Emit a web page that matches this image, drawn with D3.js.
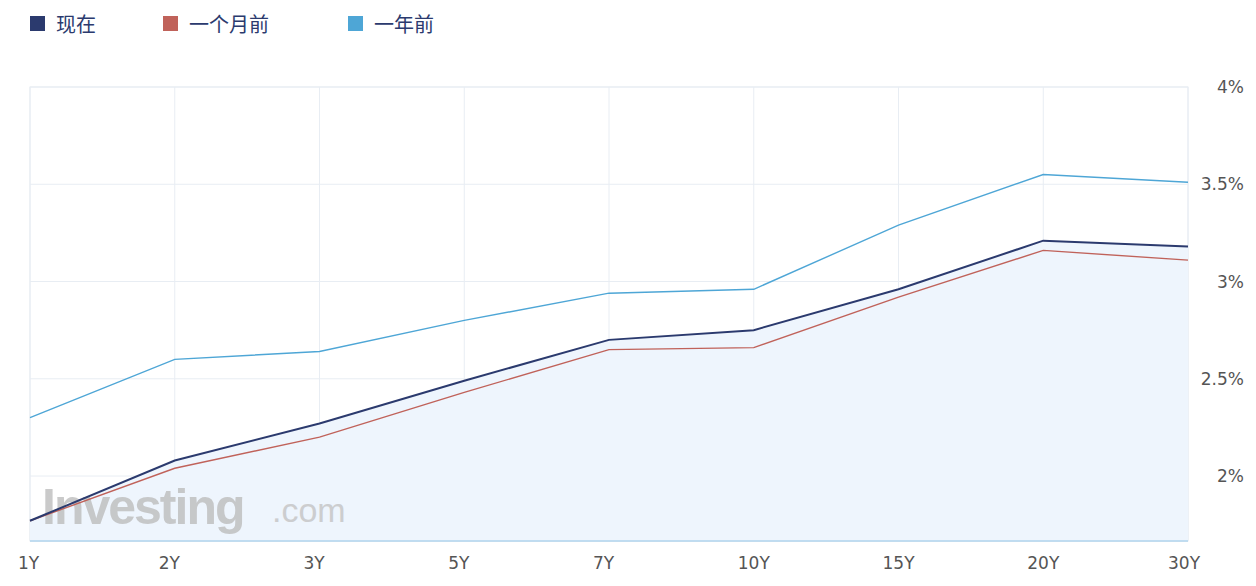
<!DOCTYPE html>
<html><head><meta charset="utf-8">
<script src="https://cdn.jsdelivr.net/npm/d3@7"></script>
<style>body{margin:0;background:#fff;font-family:"Noto Sans CJK SC","Noto Sans",sans-serif}</style>
</head><body><svg id="c" width="1256" height="586"></svg>
<script>
const TENORS = ["1Y","2Y","3Y","5Y","7Y","10Y","15Y","20Y","30Y"];
const NOW = [1.77,2.08,2.27,2.49,2.70,2.75,2.96,3.21,3.18];
const MONTH_AGO = [1.77,2.04,2.20,2.43,2.65,2.66,2.92,3.16,3.11];
const YEAR_AGO = [2.30,2.60,2.64,2.80,2.94,2.96,3.29,3.55,3.51];
const Y_TICKS = [2,2.5,3,3.5,4];
const SERIES = [
  { name: "现在", values: NOW, color: "#2b3a6e" },
  { name: "一个月前", values: MONTH_AGO, color: "#c0625a" },
  { name: "一年前", values: YEAR_AGO, color: "#4ea6d6" },
];

const svg = d3.select("#c");
const plot = { left: 30, right: 1188, top: 87, bottom: 541 };

const x = d3.scalePoint().domain(TENORS).range([plot.left, plot.right]);
const y = d3.scaleLinear().domain([4, 1.666]).range([plot.top, plot.bottom]);

svg.append("rect").attr("x", plot.left).attr("y", plot.top).attr("width", plot.right - plot.left)
  .attr("height", plot.bottom - plot.top).attr("fill", "none").attr("stroke", "#e6ebf2");

svg.append("g").selectAll("line").data(TENORS).join("line")
  .attr("x1", (d) => x(d)).attr("x2", (d) => x(d)).attr("y1", plot.top).attr("y2", plot.bottom)
  .attr("stroke", "#e8edf3");
svg.append("g").selectAll("line").data(Y_TICKS).join("line")
  .attr("x1", plot.left).attr("x2", plot.right).attr("y1", (d) => y(d)).attr("y2", (d) => y(d))
  .attr("stroke", "#e8edf3");

// area under current curve
svg.append("path").datum(NOW)
  .attr("d", d3.area().x((d, i) => x(TENORS[i])).y0(plot.bottom).y1((d) => y(d)))
  .attr("fill", "#eef5fd");

svg.append("line").attr("x1", plot.left).attr("x2", plot.right).attr("y1", plot.bottom).attr("y2", plot.bottom)
  .attr("stroke", "#8fc3e6").attr("stroke-width", 1.2);

svg.append("text").attr("x", 42).attr("y", 524).text("Investing")
  .style("font-family", "Liberation Sans").style("font-weight", "bold")
  .style("font-size", "50px").style("fill", "#bdbdbd").style("opacity", 0.8)
  .attr("letter-spacing", "-2");
svg.append("text").attr("x", 272).attr("y", 522).text(".com")
  .style("font-family", "Liberation Sans").style("font-size", "34px")
  .style("fill", "#c4c4c4").style("opacity", 0.8);

const line = d3.line().x((d, i) => x(TENORS[i])).y((d) => y(d));
[...SERIES].reverse().forEach((s) => {
  svg.append("path").datum(s.values).attr("d", line).attr("fill", "none")
    .attr("stroke", s.color).attr("stroke-width", s.name === "现在" ? 2 : 1.4);
});

svg.append("g").selectAll("text").data(Y_TICKS).join("text")
  .attr("x", 1244).attr("y", (d) => y(d) + 6).attr("text-anchor", "end")
  .text((d) => d + "%").style("font-size", "17px").style("fill", "#555")
  .style("font-family", "DejaVu Sans");

svg.append("g").selectAll("text").data(TENORS).join("text")
  .attr("x", (d, i) => x(d) + (i === 0 ? -12 : i === TENORS.length - 1 ? -20 : -16))
  .attr("y", 569).attr("text-anchor", "start")
  .text((d) => d).style("font-size", "17px").style("fill", "#555")
  .style("font-family", "DejaVu Sans");

const legendX = [30, 163, 348];
SERIES.forEach((s, i) => {
  svg.append("rect").attr("x", legendX[i]).attr("y", 16).attr("width", 15).attr("height", 15).attr("fill", s.color);
  svg.append("text").attr("x", legendX[i] + 26).attr("y", 32).text(s.name)
    .style("font-size", "20px").style("fill", "#2b3a6e");
});
</script></body></html>
